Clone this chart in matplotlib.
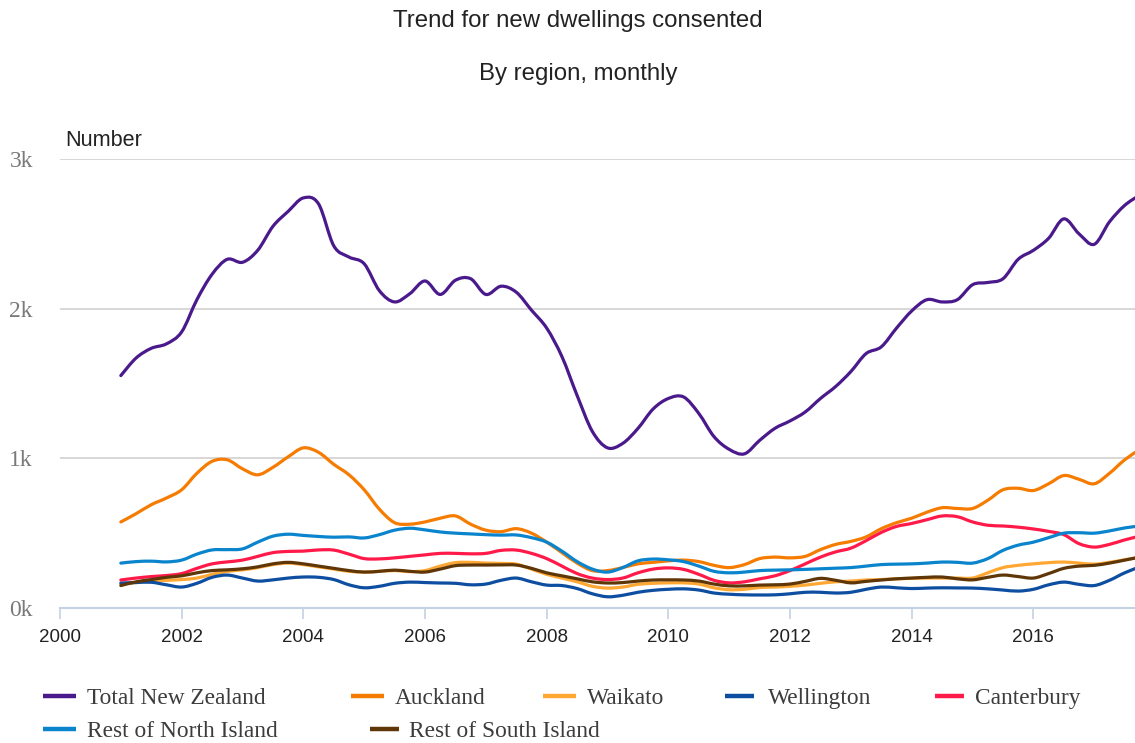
import numpy as np
import matplotlib
matplotlib.use("Agg")
from matplotlib import pyplot as plt
from matplotlib.lines import Line2D
from matplotlib.path import Path
from matplotlib.patches import PathPatch


# quarterly readings, 2001 Q1 .. 2017 Q4 (4 values per row = 1 year)
years = np.arange(2001, 2017.76, 0.25)

total_nz = [
    1553, 1670, 1735, 1765,
    1845, 2060, 2230, 2330,
    2310, 2390, 2550, 2650,
    2740, 2700, 2420, 2345,
    2300, 2120, 2045, 2100,
    2185, 2095, 2190, 2200,
    2095, 2150, 2110, 1990,
    1870, 1680, 1420, 1180,
    1070, 1100, 1200, 1330,
    1400, 1410, 1300, 1145,
    1060, 1030, 1120, 1200,
    1250, 1310, 1400, 1480,
    1580, 1700, 1745, 1870,
    1985, 2060, 2045, 2060,
    2160, 2175, 2200, 2330,
    2390, 2470, 2600, 2500,
    2430, 2580, 2690, 2760,
]

auckland = [
    575, 630, 690, 735,
    790, 900, 980, 990,
    930, 890, 940, 1010,
    1070, 1040, 960, 890,
    790, 660, 570, 560,
    575, 600, 615, 560,
    520, 510, 530, 500,
    440, 370, 300, 250,
    250, 270, 295, 305,
    315, 320, 310, 285,
    270, 290, 330, 340,
    335, 345, 390, 425,
    445, 475, 530, 570,
    600, 640, 670, 665,
    665, 720, 790, 800,
    785, 830, 885, 860,
    830, 900, 990, 1060,
]

waikato = [
    160, 170, 180, 185,
    190, 200, 225, 245,
    255, 270, 290, 300,
    290, 275, 260, 245,
    240, 245, 250, 243,
    250, 280, 303, 305,
    300, 298, 293, 260,
    225, 200, 175, 145,
    133, 140, 158, 165,
    168, 168, 160, 135,
    122, 125, 137, 140,
    145, 153, 165, 175,
    180, 187, 190, 195,
    198, 200, 200, 200,
    200, 235, 270, 285,
    295, 303, 307, 300,
    293, 305, 322, 340,
]

wellington = [
    167, 170, 172, 155,
    140, 165, 205, 220,
    200, 180, 188, 200,
    207, 205, 190, 155,
    135, 145, 165, 173,
    170, 167, 165, 155,
    160, 185, 200, 175,
    153, 150, 130, 95,
    75, 85, 105, 118,
    125, 128, 120, 100,
    92, 88, 87, 88,
    95, 105, 105, 100,
    105, 125, 140, 135,
    130, 133, 135, 134,
    133, 128, 120, 113,
    125, 155, 173, 158,
    150, 185, 235, 275,
]

canterbury = [
    187, 200, 210, 217,
    230, 265, 295, 308,
    320, 345, 370, 378,
    380, 388, 387, 360,
    330, 328, 335, 345,
    355, 365, 365, 362,
    365, 385, 387, 365,
    330, 280, 230, 200,
    190, 200, 235, 260,
    268, 258, 225, 185,
    168, 175, 195, 215,
    250, 295, 340, 375,
    400, 450, 505, 545,
    565, 590, 615, 610,
    575, 553, 548, 540,
    528, 512, 490, 430,
    407, 425, 455, 480,
]

rest_north = [
    300, 310, 313, 308,
    320, 360, 388, 390,
    395, 440, 480, 493,
    485, 478, 473, 475,
    468, 490, 520, 533,
    522, 508, 500, 495,
    490, 487, 488, 470,
    440, 380, 310, 260,
    240, 270, 315, 327,
    322, 310, 280, 245,
    235, 240, 250, 253,
    255, 258, 262, 266,
    270, 280, 290, 293,
    295, 300, 307, 305,
    300, 330, 385, 420,
    440, 470, 500, 503,
    500, 515, 535, 548,
]

rest_south = [
    150, 175, 190, 205,
    215, 235, 250, 255,
    262, 275, 295, 305,
    295, 280, 265, 250,
    240, 245, 253, 245,
    240, 260, 283, 287,
    287, 288, 287, 265,
    235, 215, 195, 175,
    167, 170, 180, 187,
    188, 187, 180, 160,
    148, 148, 153, 155,
    160, 178, 198, 185,
    168, 178, 187, 195,
    200, 205, 207, 195,
    188, 205, 220, 210,
    200, 230, 265, 280,
    285, 300, 320, 340,
]

labels = ["Total New Zealand", "Auckland", "Waikato", "Wellington",
          "Canterbury", "Rest of North Island", "Rest of South Island"]
colors = ["#4a1a8c", "#f57c00", "#ffa733", "#0d4ea1",
          "#ff1a4a", "#0a84cc", "#5e3608"]

SANS = "Liberation Sans"
SERIF = "Liberation Serif"


def curve_path(x, y):
    # smooth (catmull-rom style) bezier through the readings
    pts = np.column_stack([x, np.asarray(y, dtype=float)])
    verts = [pts[0]]
    codes = [Path.MOVETO]
    n = len(pts)
    for i in range(n - 1):
        p0 = pts[max(i - 1, 0)]
        p1 = pts[i]
        p2 = pts[i + 1]
        p3 = pts[min(i + 2, n - 1)]
        verts += [p1 + (p2 - p0) / 6, p2 - (p3 - p1) / 6, p2]
        codes += [Path.CURVE4] * 3
    return Path(verts, codes)


def draw_legend(fig):
    # (marker start, marker end, text x, row y) in pixels
    W, H = 1135, 743
    spots = [(43, 76, 87, 696), (351, 384, 395, 696), (543, 576, 587, 696),
             (725, 754, 768, 696), (935, 964, 975, 696),
             (43, 76, 87, 729), (370, 399, 409, 729)]
    for (x0, x1, tx, y), lab, col in zip(spots, labels, colors):
        yf = 1 - y / H
        fig.add_artist(Line2D([x0 / W, x1 / W], [yf, yf], color=col,
                              lw=3.2, solid_capstyle="butt"))
        fig.text(tx / W, yf, lab, fontsize=16.8, family=SERIF,
                 color="#3c3c3c", va="center_baseline", ha="left")


def main():
    fig = plt.figure(figsize=(11.35, 7.43), dpi=100)
    ax = fig.add_axes([60 / 1135, 1 - 608 / 743, 1 - 60 / 1135, (608 - 159) / 743])

    series = [total_nz, auckland, waikato, wellington, canterbury, rest_north, rest_south]
    for vals, col in zip(series, colors):
        patch = PathPatch(curve_path(years, vals), facecolor="none", edgecolor=col,
                          lw=2.3, capstyle="round", joinstyle="round", zorder=3)
        ax.add_patch(patch)

    ax.set_xlim(2000, 2017.67)
    ax.set_ylim(0, 3000)

    ax.set_yticks([0, 1000, 2000, 3000])
    ax.set_yticklabels(["0k", "1k", "2k", "3k"], family=SERIF,
                       fontsize=17, color="#7a7a7a")
    ax.set_xticks(range(2000, 2017, 2))
    ax.set_xticklabels([str(y) for y in range(2000, 2017, 2)],
                       family=SANS, fontsize=13.5, color="#222222")

    ax.tick_params(axis="y", length=0, pad=19.5)
    ax.tick_params(axis="x", length=8, width=1.2, color="#c4d2e4", pad=7)

    ax.grid(axis="y", color="#d4d4d4", lw=1.3, zorder=0)
    ax.grid(axis="x", visible=False)
    for s in ["top", "right", "left"]:
        ax.spines[s].set_visible(False)
    ax.spines["bottom"].set_color("#c4d2e4")
    ax.spines["bottom"].set_linewidth(1.5)
    ax.spines["bottom"].set_zorder(4)

    fig.text(578 / 1135, 1 - 21 / 743, "Trend for new dwellings consented",
             family=SANS, fontsize=17.3, color="#222222", ha="center", va="center")
    fig.text(578 / 1135, 1 - 74 / 743, "By region, monthly",
             family=SANS, fontsize=17.3, color="#222222", ha="center", va="center")
    fig.text(65 / 1135, 1 - 140 / 743, "Number",
             family=SANS, fontsize=15.6, color="#222222", ha="left", va="center")

    draw_legend(fig)

    fig.savefig("out.png", dpi=100)


if __name__ == "__main__":
    main()
